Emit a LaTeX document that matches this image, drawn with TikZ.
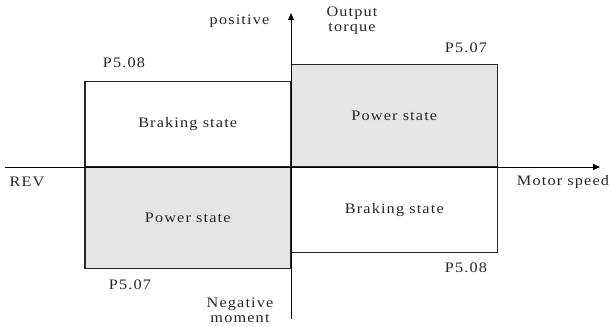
\documentclass[tikz,border=0pt]{standalone}
\usepackage{fontspec}
\setmainfont{Liberation Serif}[FakeStretch=1.12,LetterSpace=8]
\usetikzlibrary{arrows.meta,positioning}
\definecolor{powerfill}{gray}{0.9}
\tikzset{
  quad/.style={
    draw=black!85,
    line width=1.1pt,
    inner sep=0pt,
    minimum width=205.5pt,
    font=\fontsize{14.5}{16}\selectfont,
    text=black!85,
    align=center
  },
  powerquad/.style={quad, fill=powerfill},
  brakequad/.style={quad, fill=white},
  lbl/.style={font=\fontsize{14.5}{16}\selectfont, text=black!85, inner sep=0pt, align=center},
  axis/.style={line width=0.8pt, -{Triangle[length=7pt,width=6pt]}},
}
\begin{document}
\begin{tikzpicture}[x=1pt,y=-1pt]
  \useasboundingbox (0,0) rectangle (614,327);
  % quadrants
  \node[brakequad, minimum height=85pt, anchor=south east] (Q2) at (291,167) {Braking state};
  \node[powerquad, minimum height=102pt, anchor=south west] (Q1) at (291,167) {Power state};
  \node[powerquad, minimum height=101pt, anchor=north east] (Q3) at (291,167) {Power state};
  \node[brakequad, minimum height=85pt, anchor=north west] (Q4) at (291,167) {Braking state};
  % axes
  \coordinate (O) at (291,167);
  \coordinate (xl) at (5,167);
  \coordinate (xr) at (600,167);
  \coordinate (yb) at (291,319);
  \coordinate (yt) at (291,13);
  \draw[axis] (xl) -- (xr);
  \draw[axis] (yb) -- (yt);
  % labels
  \node[lbl] (pos) at (239.5,21) {positive};
  \node[lbl] (torq) at (352,20.5) {Output\\[-1pt]torque};
  \node[lbl] (neg) at (240,310) {Negative\\[-1pt]moment};
  \node[lbl] (rev) at (27,182) {REV};
  \node[lbl] (spd) at (563,182) {Motor speed};
  \node[lbl] (limA) at (124,63) {P5.08};
  \node[lbl] (limB) at (466,47.5) {P5.07};
  \node[lbl] (limC) at (466,268) {P5.08};
  \node[lbl] (limD) at (130,285) {P5.07};
\end{tikzpicture}
\end{document}
